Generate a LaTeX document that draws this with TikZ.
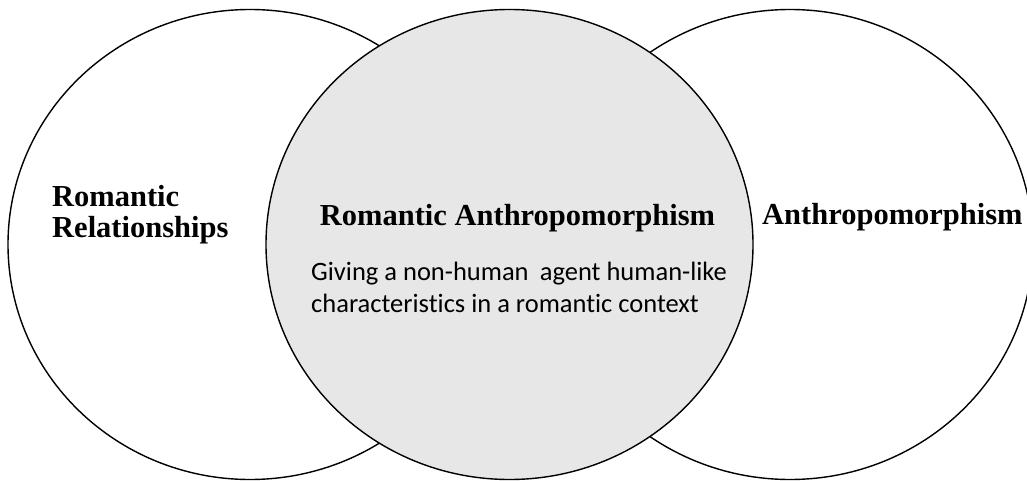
\documentclass[tikz,border=0pt]{standalone}
\usepackage{fontspec}
\setmainfont{Liberation Serif}
\newfontfamily\calib[Ligatures=NoCommon]{Carlito}
\definecolor{midgray}{RGB}{231,231,231}
\tikzset{
  setshape/.style={draw=black, line width=1.4pt},
  titletext/.style={inner sep=0pt, font=\fontsize{30.5}{29}\selectfont\bfseries},
  bodytext/.style={inner sep=0pt, font=\calib\fontsize{26.5}{32}\selectfont},
}
\begin{document}
\begin{tikzpicture}[x=1pt,y=-1pt]
\useasboundingbox (0,0) rectangle (1027,481);
\clip (0,0) rectangle (1027,481);
\fill[white] (0,0) rectangle (1027,481);
% ellipses
\draw[setshape, fill=white] (250,244.5) ellipse [x radius=242, y radius=235];
\draw[setshape, fill=white] (790,244.5) ellipse [x radius=243, y radius=235];
\draw[setshape, fill=midgray] (509.5,244.5) ellipse [x radius=243.5, y radius=235];
% labels
\node[titletext, anchor=base west] (rr1) at (52,207) {Romantic};
\node[titletext, anchor=base west] (rr2) at (52,237) {Relationships};
\node[titletext, anchor=base] (ra) at (517.5,225.5) {Romantic Anthropomorphism};
\node[titletext, anchor=base west] (an) at (762,224) {Anthropomorphism};
\node[bodytext, anchor=base west] (d1) at (311,280) {Giving a non-human\hspace{0.2em} agent human-like};
\node[bodytext, anchor=base west] (d2) at (311,312) {characteristics in a romantic context};
\end{tikzpicture}
\end{document}
